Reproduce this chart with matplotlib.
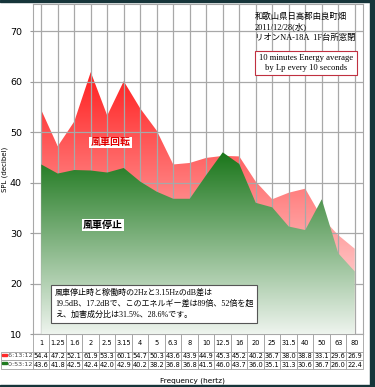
import matplotlib
matplotlib.use('Agg')
import matplotlib.pyplot as plt
import numpy as np
from matplotlib.colors import LinearSegmentedColormap
from matplotlib.patches import Rectangle

plt.rcParams['font.family'] = ['DejaVu Sans', 'Noto Sans CJK JP']

freqs = ['1', '1.25', '1.6', '2', '2.5', '3.15', '4', '5', '6.3', '8',
         '10', '12.5', '16', '20', '25', '31.5', '40', '50', '63', '80']
running = [54.4, 47.2, 52.1, 61.9, 53.3, 60.1, 54.7, 50.3, 43.6, 43.9,
           44.9, 45.3, 45.2, 40.2, 36.7, 38.0, 38.8, 33.1, 29.6, 26.9]
stopped = [43.6, 41.8, 42.5, 42.4, 42.0, 42.9, 40.2, 38.2, 36.8, 36.8,
           41.5, 46.0, 43.7, 36.0, 35.1, 31.3, 30.6, 36.7, 26.0, 22.4]
row_labels = ['6:13:12', '0:53:12']
series_colors = ['#ff2a2a', '#1e7a1e']

ymin, ymax = 10, 75.4
W, H = 375, 387
fig = plt.figure(figsize=(W / 100, H / 100), dpi=100)
ax = fig.add_axes([33 / W, 1 - 334 / H, 330 / W, 330 / H])

x = np.arange(len(freqs))
ax.set_xlim(-0.5, len(freqs) - 0.5)
ax.set_ylim(ymin, ymax)


def gradient_area(vals, top_color, bottom_color, z):
    poly = ax.fill_between(x, ymin, vals, color='none', lw=0, zorder=z)
    cmap = LinearSegmentedColormap.from_list('g', [bottom_color, top_color])
    grad = np.linspace(0, 1, 256).reshape(-1, 1)
    img = ax.imshow(grad, cmap=cmap, aspect='auto', origin='lower',
                    extent=(-0.5, len(freqs) - 0.5, ymin, max(vals)),
                    zorder=z, interpolation='bilinear')
    img.set_clip_path(poly.get_paths()[0], transform=ax.transData)


gradient_area(running, '#ff2020', '#fff4f4', 2)
gradient_area(stopped, '#1a761a', '#eef4ee', 3)
ax.set_ylim(ymin, ymax)

ax.set_xticks(x)
ax.set_xticklabels([])
ax.tick_params(axis='x', length=0)
ax.set_yticks([10, 20, 30, 40, 50, 60, 70])
ax.tick_params(axis='y', length=2, labelsize=6.8, color='#999999', pad=6)
ax.grid(True, color='#a8a8a8', lw=0.9, zorder=4)
ax.set_axisbelow(False)
for s in ax.spines.values():
    s.set_color('#a8a8a8')
ax.set_ylabel('SPL (decibel)', fontsize=5)
ax.yaxis.set_label_coords(-0.075, 0.5)

serif = ['Liberation Serif', 'Noto Sans CJK JP']
ax.text(4.2, 48, '風車回転', color='#e00000', fontsize=7.2, fontweight='bold',
        ha='center', va='center', zorder=6, family=serif,
        bbox=dict(fc='white', ec='none', pad=0.8))
ax.text(3.75, 31.6, '風車停止', color='black', fontsize=7.2, fontweight='bold',
        ha='center', va='center', zorder=6, family=serif,
        bbox=dict(fc='white', ec='none', pad=0.8))

fig.text(255 / W, 1 - 12 / H,
         '和歌山県日高郡由良町畑\n2011/12/28(水)\nリオンNA-18A  1F台所窓閉',
         fontsize=6, ha='left', va='top', family=serif, linespacing=1.3)
fig.text(306 / W, 1 - 63 / H,
         '10 minutes Energy average\nby Lp every 10 seconds',
         fontsize=6.2, ha='center', va='center', family=serif, linespacing=1.2,
         bbox=dict(fc='white', ec='#c03040', lw=0.8, boxstyle='square,pad=0.4'))
fig.text(55 / W, 1 - 304 / H,
         '風車停止時と稼働時の2Hzと3.15HzのdB差は\n'
         '19.5dB、17.2dBで、このエネルギー差は89倍、52倍を超\n'
         'え、加害成分比は31.5%、28.6%です。',
         fontsize=5.8, ha='left', va='center', family=serif, linespacing=1.45,
         bbox=dict(fc='white', ec='#555555', lw=0.8, boxstyle='square,pad=0.45'))

cell_text = [freqs,
             ['%.1f' % v for v in running],
             ['%.1f' % v for v in stopped]]
# bbox covers only the data cells; the label column sits to the left of it
tab = ax.table(cellText=cell_text,
               rowLabels=['', '   ' + row_labels[0], '   ' + row_labels[1]],
               cellLoc='center', rowLoc='left',
               bbox=[0, -35 / 330, 1, 35 / 330])
tab.auto_set_font_size(False)
for (r, c), cell in tab.get_celld().items():
    cell.set_edgecolor('#a0a0a0')
    cell.set_linewidth(0.6)
    cell.get_text().set_fontsize(4.8)
    cell.PAD = 0.03
    cell.set_height(2.0 if r == 0 else 1.0)
    if c == -1:
        cell.set_width(2 * tab[0, 0].get_width())
        cell.get_text().set_fontsize(4.6)
        cell.get_text().set_color('#444444')
tab[0, -1].visible_edges = ''

for i, col in enumerate(series_colors):
    fig.patches.append(Rectangle((2 / W, 1 - (355.5 + 8.5 * i) / H), 5 / W, 2 / H,
                                 transform=fig.transFigure, color=col))

fig.text(192 / W, 1 - 381 / H, 'Frequency (hertz)', fontsize=5.3,
         ha='center', va='center')

border = '#16353a'
fig.patches.append(Rectangle((0, 1 - 1.5 / H), 1, 1.5 / H, transform=fig.transFigure, color=border))
fig.patches.append(Rectangle((1 - 5 / W, 0), 5 / W, 1, transform=fig.transFigure, color=border))
fig.patches.append(Rectangle((0, 0), 1, 2.5 / H, transform=fig.transFigure, color=border))

fig.savefig('out.png', dpi=100)
